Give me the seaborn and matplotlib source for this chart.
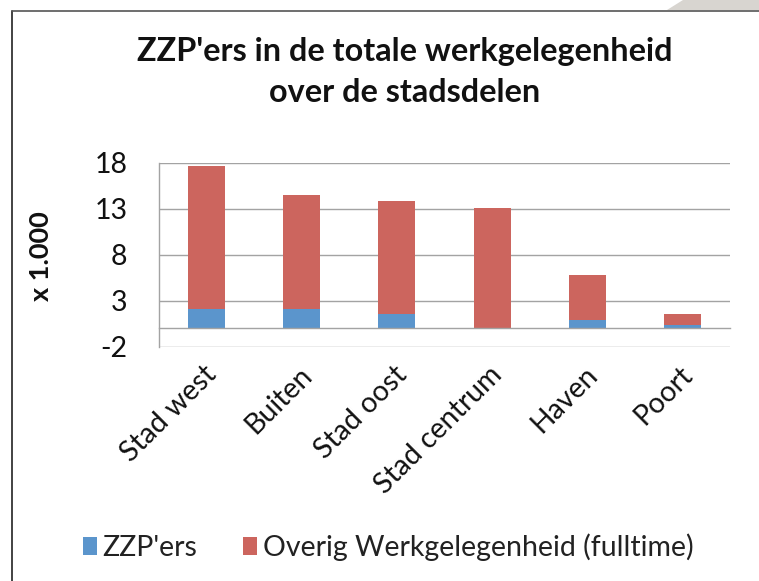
import matplotlib
matplotlib.use("Agg")
import matplotlib.pyplot as plt
from matplotlib.patches import Polygon
from matplotlib.lines import Line2D
from matplotlib.transforms import ScaledTranslation
import seaborn as sns
import pandas as pd
import numpy as np

# ---- data (x 1.000) ----
categories = ["Stad west", "Buiten", "Stad oost", "Stad centrum", "Haven", "Poort"]
zzp = [2.05, 2.05, 1.6, 0.0, 0.95, 0.35]
overig = [15.6, 12.45, 12.25, 13.05, 4.8, 1.25]
series_labels = ["ZZP'ers", "Overig Werkgelegenheid (fulltime)"]
y_ticks = [-2, 3, 8, 13, 18]
title_text = "ZZP'ers in de totale werkgelegenheid\nover de stadsdelen"
y_label = "x 1.000"

df = pd.DataFrame({"stadsdeel": categories, "zzp": zzp, "overig": overig})
df["totaal"] = df["zzp"] + df["overig"]

sns.set_style("white")
plt.rcParams["font.family"] = ["Lato", "DejaVu Sans"]

W, H, DPI = 759, 581, 100
fig = plt.figure(figsize=(W / DPI, H / DPI), dpi=DPI)
fig.patch.set_facecolor("white")

# axes placement in pixels
x0, x1 = 159, 730
y_top, y_bot = 162.7, 346.7
ax = fig.add_axes([x0 / W, 1 - y_bot / H, (x1 - x0) / W, (y_bot - y_top) / H])

blue = "#5b95cc"
red = "#cc655e"
grid_c = "#a3a3a3"
fs = 20.5

# stacked bars: total (red) underneath, ZZP (blue) on top of it at the base
sns.barplot(data=df, x="stadsdeel", y="totaal", color=red, width=0.39,
            saturation=1, ax=ax, label=series_labels[1], zorder=3, linewidth=0)
sns.barplot(data=df, x="stadsdeel", y="zzp", color=blue, width=0.39,
            saturation=1, ax=ax, label=series_labels[0], zorder=4, linewidth=0)

handles, labels = ax.get_legend_handles_labels()
if ax.legend_ is not None:
    ax.legend_.remove()

ax.set_ylim(-2, 18)
ax.set_xlim(-0.5, len(categories) - 0.5)
ax.set_yticks(y_ticks)
ax.set_yticklabels([str(t) for t in y_ticks])
ax.yaxis.grid(True, color=grid_c, linewidth=1.0)
ax.set_axisbelow(True)

for s in ["top", "right"]:
    ax.spines[s].set_visible(False)
ax.spines["left"].set_color(grid_c)
ax.spines["left"].set_linewidth(1.0)
ax.spines["bottom"].set_position(("data", 0))
ax.spines["bottom"].set_color(grid_c)
ax.spines["bottom"].set_linewidth(1.0)
ax.spines["bottom"].set_zorder(5)

ax.tick_params(axis="y", which="major", length=8.6, width=1.0, color=grid_c,
               labelsize=fs, pad=14, labelcolor="#111111")
ax.set_xticks(np.arange(-0.5, len(categories), 1.0), minor=True)
ax.tick_params(axis="x", which="minor", length=5, width=1.0, color=grid_c,
               direction="out")
ax.tick_params(axis="x", which="major", length=0, labelsize=fs, pad=24,
               labelcolor="#111111")
ax.set_xlabel("")
for lab in ax.get_xticklabels():
    lab.set_rotation(45)
    lab.set_ha("right")
    lab.set_va("top")
    lab.set_rotation_mode("anchor")
    lab.set_transform(lab.get_transform() + ScaledTranslation(-3 / DPI, 0, fig.dpi_scale_trans))

ax.set_ylabel(y_label, fontsize=19.5, fontweight="bold", color="#111111")
ax.yaxis.set_label_coords((53 - x0) / (x1 - x0), (y_bot - 256) / (y_bot - y_top))

# title
fig.text(405 / W, 1 - 72 / H, title_text, ha="center", va="center",
         fontsize=23.3, fontweight="bold", color="#111111", linespacing=1.5)

# legend
order = [labels.index(series_labels[0]), labels.index(series_labels[1])]
fig.legend([handles[i] for i in order], [labels[i] for i in order],
           loc="center", bbox_to_anchor=(388 / W, 1 - 547 / H), ncol=2,
           frameon=False, fontsize=fs, handlelength=0.5, handleheight=0.6,
           handletextpad=0.2, columnspacing=1.6, labelcolor="#222222")

# frame decoration (page border and corner)
fig.add_artist(Line2D([12 / W, 12 / W], [0, 1 - 11 / H], transform=fig.transFigure,
                      color="#222222", linewidth=1.2))
fig.add_artist(Line2D([12 / W, 1], [1 - 11 / H, 1 - 11 / H], transform=fig.transFigure,
                      color="#555555", linewidth=1.2))
fig.add_artist(Polygon([[667 / W, 1 - 10 / H], [683 / W, 1], [1, 1], [1, 1 - 10 / H]],
                       closed=True, transform=fig.transFigure, facecolor="#d8d5d0",
                       edgecolor="none"))

fig.savefig("out.png", dpi=DPI, facecolor="white")
